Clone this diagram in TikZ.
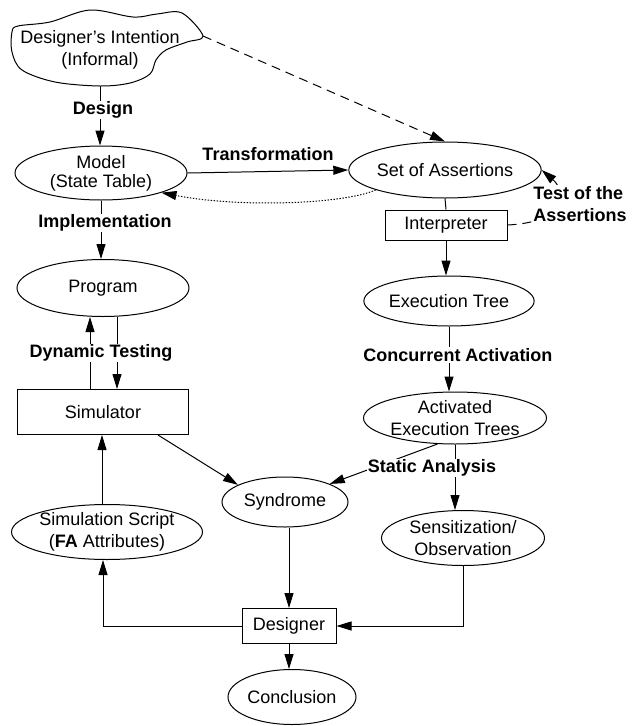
\documentclass[tikz,border=0pt]{standalone}
\usepackage{fontspec}
\setmainfont{Liberation Sans}
\usetikzlibrary{shapes.geometric,arrows.meta}
\begin{document}
\begin{tikzpicture}[x=1pt,y=-1pt,
  every node/.style={font=\fontsize{18}{22}\selectfont},
  oval/.style={draw,ellipse,inner sep=0pt,align=center,line width=1pt},
  boxn/.style={draw,rectangle,inner sep=0pt,line width=1pt},
  lbl/.style={fill=white,font=\bfseries\fontsize{18}{22}\selectfont,inner sep=1pt,align=center},
  conn/.style={line width=1pt,-{Triangle[length=15pt,width=9pt]}},
  plain/.style={line width=1pt},
  dash5/.style={dash pattern=on 9pt off 6pt},
  dots/.style={dash pattern=on 1.4pt off 1.6pt}]
\useasboundingbox (0,0) rectangle (632,726);

% cloud
\draw[line width=1pt] plot[smooth cycle, tension=0.55] coordinates {
 (12,32) (18,26) (50,22) (90,10) (133,17) (157,14) (182,13) (203,36)
 (187,42) (166,50) (156,60) (150,74) (130,83) (100,86) (55,82) (22,70) (12,52)};
\node[align=center] (intent) at (100,50) {Designer's Intention\\(Informal)};
\coordinate (cloudS) at (100,86);
\coordinate (cloudE) at (203,36);

% nodes
\node[oval,minimum width=172pt,minimum height=54pt,font=\fontsize{18}{19}\selectfont] (model) at (101,173) {Model\\(State Table)};
\node[oval,minimum width=166pt,minimum height=56pt] (soa) at (445,170) {Set of Assertions};
\node[boxn,minimum width=122pt,minimum height=30pt] (interp) at (446,225) {Interpreter};
\node[oval,minimum width=168pt,minimum height=50pt] (et) at (449,301) {Execution Tree};
\node[oval,minimum width=166pt,minimum height=52pt] (aet) at (455,418) {Activated\\Execution Trees};
\node[oval,minimum width=163pt,minimum height=55pt] (sens) at (463,538) {Sensitization/\\Observation};
\node[oval,minimum width=172pt,minimum height=57pt] (prog) at (103,288) {Program};
\node[boxn,minimum width=171pt,minimum height=45pt] (sim) at (103,412) {Simulator};
\node[oval,minimum width=126pt,minimum height=50pt] (synd) at (285,502) {Syndrome};
\node[oval,minimum width=172pt,minimum height=55pt] (script) at (107,532) {Simulation Script\\(\textbf{FA} Attributes)};
\node[boxn,minimum width=94pt,minimum height=35pt] (designer) at (289,626) {Designer};
\node[oval,minimum width=128pt,minimum height=55pt] (concl) at (292,697) {Conclusion};

% connectors
\draw[conn] (cloudS) -- (cloudS |- model.north);
\node[lbl] (ldesign) at (103,110) {Design};
\draw[conn,dash5] (cloudE) -- (soa.north);

\draw[conn] (model.east) -- (soa.west);
\node[lbl] (ltrans) at (268,154) {Transformation};
\draw[conn,dots] (soa.196) .. controls (345,204) and (240,208) .. (model.-18);

\draw[conn,dash5] (interp.east) .. controls (570,222) and (565,190) .. (soa.east);
\node[lbl,align=left] (ltest) at (580,204) {Test of the\\Assertions};

\draw[plain] (soa.south) -- (interp.north);
\draw[conn] (interp.south) -- (interp.south |- et.north);
\draw[conn] (et.south) -- (et.south |- aet.north);
\node[lbl] (lconc) at (458,355) {Concurrent Activation};
\draw[conn] (aet.south) -- (aet.south |- sens.north);
\draw[conn] (aet.236) -- (synd.22);
\node[lbl] (lstatic) at (432,468) {Static Analysis};
\draw[conn] (sens.south) |- (designer.east);

\draw[conn] (model.south) -- (model.south |- prog.north);
\node[lbl] (limpl) at (105,223) {Implementation};
\draw[conn] ([xshift=-13pt]sim.north) -- ([xshift=-13pt]prog.south);
\draw[conn] ([xshift=14pt]prog.south) -- ([xshift=14pt]sim.north);
\node[lbl] (ldyn) at (101,353) {Dynamic Testing};

\draw[conn] ([xshift=55pt]sim.south) -- (synd.160);
\draw[conn] ([xshift=-5pt]script.north) -- ([xshift=-5pt]script.north |- sim.south);
\draw[conn] (designer.north |- synd.south) -- (designer.north);
\draw[conn] (designer.west) -| ([xshift=-4pt]script.south);
\draw[conn] (designer.south) -- (designer.south |- concl.north);
\end{tikzpicture}
\end{document}
